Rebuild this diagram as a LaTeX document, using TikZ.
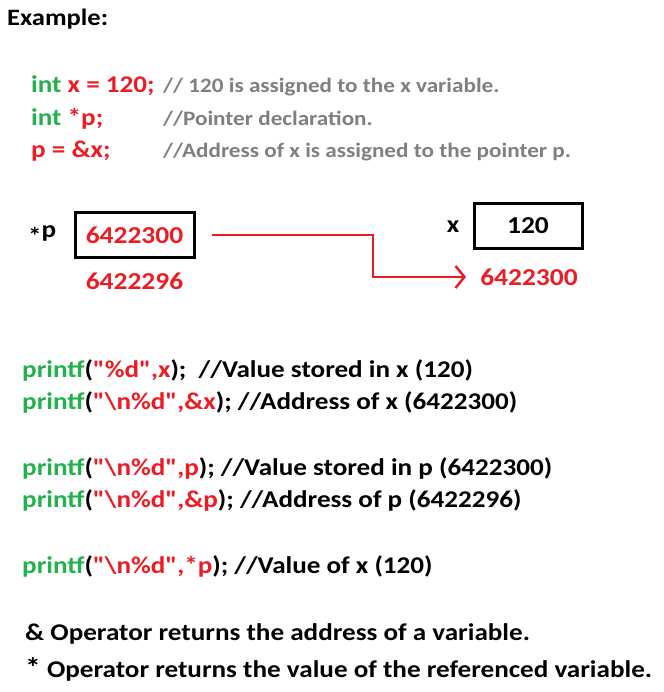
\documentclass[tikz,border=0pt]{standalone}
\usepackage{fontspec}
\setmainfont{Carlito}[FakeStretch=1.13, Ligatures=TeXOff]
\usetikzlibrary{positioning,arrows.meta}
\definecolor{codegreen}{RGB}{34,177,76}
\definecolor{codered}{RGB}{237,28,36}
\definecolor{cmtgray}{RGB}{127,127,127}
\newcommand{\kw}[1]{\textcolor{codegreen}{#1}}
\newcommand{\rd}[1]{\textcolor{codered}{#1}}
\tikzset{
  txt/.style={anchor=base west, inner sep=0pt, font=\fontsize{24}{28}\selectfont\bfseries},
  cmt/.style={txt, text=cmtgray, font=\fontsize{20.5}{24}\selectfont\bfseries},
  memcell/.style={draw, line width=3pt, inner sep=0pt, font=\fontsize{24.3}{28}\selectfont\bfseries},
  addr/.style={inner sep=0pt, text=codered, font=\fontsize{24.3}{28}\selectfont\bfseries},
  ptrline/.style={draw=codered, line width=2.5pt}
}
\begin{document}
\begin{tikzpicture}[x=1pt, y=-1pt]
  \useasboundingbox (0,0) rectangle (663,692);
  \node[txt, font=\fontsize{23.5}{28}\selectfont\bfseries] (title) at (7,26) {Example:};
  % declarations
  \node[txt] (decl1) at (31,93) {\kw{int} \rd{x = 120;}};
  \node[txt] (decl2) at (31,126) {\kw{int} \rd{*p;}};
  \node[txt] (decl3) at (31,158) {\rd{p = \&x;}};
  \node[cmt] (cmt1) at (163,93) {// 120 is assigned to the x variable.};
  \node[cmt] (cmt2) at (163,126) {//Pointer declaration.};
  \node[cmt] (cmt3) at (163,158) {//Address of x is assigned to the pointer p.};
  % memory cells
  \node[memcell, minimum width=119pt, minimum height=44pt, text=codered] (pbox) at (134.5,235) {6422300};
  \node[txt] (plabel) at (28,237) {\raisebox{-7pt}{*}p};
  \node[addr] (paddr) at (134.5,281) {6422296};
  \node[memcell, minimum width=108pt, minimum height=45pt] (xbox) at (528,226) {120};
  \node[txt, anchor=center] (xlabel) at (453,227) {x};
  \node[addr] (xaddr) at (529,277) {6422300};
  % arrow from p to x
  \coordinate (bend) at (373,235);
  \draw[ptrline, -{Straight Barb[length=9pt, width=22pt]}] ([xshift=16pt]pbox.east) -- (bend) |- ([xshift=-14pt]xaddr.west);
  % printf lines
  \node[txt] (pr1) at (22,377) {\kw{printf}(\rd{"\%d",x});~~//Value stored in x (120)};
  \node[txt] (pr2) at (22,409) {\kw{printf}(\rd{"\textbackslash n\%d",\&x}); //Address of x (6422300)};
  \node[txt] (pr3) at (22,475) {\kw{printf}(\rd{"\textbackslash n\%d",p}); //Value stored in p (6422300)};
  \node[txt] (pr4) at (22,507) {\kw{printf}(\rd{"\textbackslash n\%d",\&p}); //Address of p (6422296)};
  \node[txt] (pr5) at (22,573) {\kw{printf}(\rd{"\textbackslash n\%d",*p}); //Value of x (120)};
  % notes
  \node[txt] (note1) at (25,640) {\& Operator returns the address of a variable.};
  \node[txt] (note2) at (25,677) {{\fontsize{28}{30}\selectfont *} Operator returns the value of the referenced variable.};
\end{tikzpicture}
\end{document}
